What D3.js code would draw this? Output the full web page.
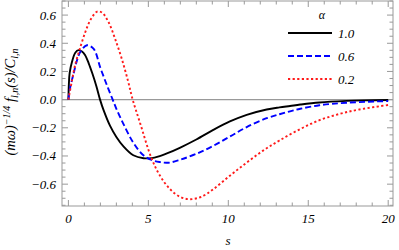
<!DOCTYPE html>
<html lang="en">
<head>
<meta charset="UTF-8">
<title>f_ln(s) for several alpha</title>
<script src="https://d3js.org/d3.v7.min.js"></script>
<style>
  body { margin: 0; background: #fff; }
  svg { display: block; }
  text { font-family: "Liberation Serif", "DejaVu Serif", serif; font-style: italic; fill: #000; }
  .frame { fill: none; stroke: #999; stroke-width: 1; }
  .tick { stroke: #999; stroke-width: 1; }
  .zero { stroke: #999; stroke-width: 1.3; }
  .curve { fill: none; stroke-width: 1.9; }
</style>
</head>
<body>
<svg width="399" height="250"></svg>
<script>
// values
const alphaLabels = ["1.0", "0.6", "0.2"];
const colors = ["#000000", "#0000ff", "#ff1a1a"];
const dashes = [null, "6,3", "2.2,2.4"];

const sA10 = [0, 0.03, 0.08, 0.23, 0.43, 0.64, 0.85, 1.04, 1.27, 1.5, 1.75, 1.98, 2.2, 2.6, 3.0, 3.43, 4.06, 4.7, 5.2, 5.6, 6.2, 7.0, 8.0, 9.06, 10.1, 11.15, 12.4, 13.2, 13.86, 14.5, 15.7, 17.4, 18.5, 20];
const fA10 = [0, 0.11, 0.19, 0.27, 0.333, 0.351, 0.341, 0.316, 0.258, 0.185, 0.095, 0, -0.075, -0.185, -0.265, -0.33, -0.395, -0.416, -0.415, -0.405, -0.38, -0.34, -0.283, -0.215, -0.155, -0.108, -0.07, -0.055, -0.045, -0.035, -0.02, -0.009, -0.005, -0.003];

const sA06 = [0, 0.1, 0.33, 0.54, 0.75, 1.16, 1.58, 2.0, 2.4, 2.77, 3.0, 3.43, 4.06, 4.69, 5.2, 5.7, 6.25, 7.0, 8.0, 9.06, 10.1, 11.15, 12.4, 13.2, 13.86, 14.5, 15.7, 17.4, 20];
const fA06 = [0, 0.08, 0.187, 0.28, 0.34, 0.386, 0.36, 0.225, 0.105, 0, -0.065, -0.17, -0.306, -0.395, -0.428, -0.443, -0.448, -0.426, -0.385, -0.328, -0.262, -0.195, -0.132, -0.104, -0.083, -0.065, -0.04, -0.022, -0.01];

const sA02 = [0, 0.23, 0.43, 0.7, 1.06, 1.4, 1.8, 2.1, 2.5, 2.91, 3.33, 3.74, 4.02, 4.48, 5.2, 5.73, 6.36, 6.98, 7.6, 8.3, 9.06, 10.1, 11.15, 12.2, 13.2, 14.48, 15.7, 17.0, 18.2, 20];
const fA02 = [0, 0.14, 0.25, 0.355, 0.48, 0.57, 0.625, 0.618, 0.553, 0.435, 0.293, 0.127, 0, -0.165, -0.417, -0.54, -0.636, -0.69, -0.707, -0.69, -0.636, -0.54, -0.447, -0.36, -0.29, -0.21, -0.146, -0.1, -0.07, -0.038];

const xMajor = [0, 5, 10, 15, 20];
const yMajor = [-0.6, -0.4, -0.2, 0.0, 0.2, 0.4, 0.6];

const series = [
  sA10.map((s, i) => [s, fA10[i]]),
  sA06.map((s, i) => [s, fA06[i]]),
  sA02.map((s, i) => [s, fA02[i]])
];

const svg = d3.select("svg");
const plotL = 62, plotR = 393, plotT = 1, plotB = 206;

const x = d3.scaleLinear().domain([-0.4, 20.3]).range([plotL, plotR]);
const y = d3.scaleLinear().domain([-0.755, 0.70]).range([plotB, plotT]);

// frame ticks, inward on all four sides
const tickG = svg.append("g");
const xMinor = d3.range(0, 21, 1);
const yMinor = d3.range(-0.75, 0.701, 0.05);
xMinor.forEach(v => {
  const len = xMajor.includes(v) ? 6 : 3.5;
  tickG.append("line").attr("class", "tick")
    .attr("x1", x(v)).attr("x2", x(v)).attr("y1", plotB).attr("y2", plotB - len);
  tickG.append("line").attr("class", "tick")
    .attr("x1", x(v)).attr("x2", x(v)).attr("y1", plotT).attr("y2", plotT + len);
});
yMinor.forEach(v => {
  const isMajor = yMajor.some(m => Math.abs(m - v) < 1e-6);
  const len = isMajor ? 6 : 3.5;
  tickG.append("line").attr("class", "tick")
    .attr("x1", plotL).attr("x2", plotL + len).attr("y1", y(v)).attr("y2", y(v));
  tickG.append("line").attr("class", "tick")
    .attr("x1", plotR).attr("x2", plotR - len).attr("y1", y(v)).attr("y2", y(v));
});

svg.append("rect").attr("class", "frame")
  .attr("x", plotL).attr("y", plotT)
  .attr("width", plotR - plotL).attr("height", plotB - plotT);

// tick labels
svg.append("g").selectAll("text").data(xMajor).enter().append("text")
  .attr("x", d => x(d)).attr("y", 223)
  .attr("text-anchor", "middle").attr("font-size", 13)
  .text(d => d);

svg.append("g").selectAll("text").data(yMajor).enter().append("text")
  .attr("x", 56).attr("y", d => y(d) + 4.5)
  .attr("text-anchor", "end").attr("font-size", 13)
  .text(d => d3.format(".1f")(d).replace("-", "\u2212"));

// zero line
svg.append("line").attr("class", "zero")
  .attr("x1", plotL).attr("x2", plotR).attr("y1", y(0)).attr("y2", y(0));

// curves
const line = d3.line().x(d => x(d[0])).y(d => y(d[1])).curve(d3.curveCatmullRom.alpha(0.5));
svg.append("g").selectAll("path").data(series).enter().append("path")
  .attr("class", "curve")
  .attr("d", line)
  .attr("stroke", (d, i) => colors[i])
  .attr("stroke-dasharray", (d, i) => dashes[i])
  .attr("stroke-width", (d, i) => i === 2 ? 2.2 : 1.9);

// axis labels
svg.append("text").attr("x", 228).attr("y", 245)
  .attr("text-anchor", "middle").attr("font-size", 13).text("s");

const yl = svg.append("text")
  .attr("transform", "translate(15,102) rotate(-90)")
  .attr("text-anchor", "middle").attr("font-size", 14.5);
yl.append("tspan").text("(mω)");
yl.append("tspan").attr("dy", -5.5).attr("font-size", 10).text("\u22121/4");
yl.append("tspan").attr("dy", 5.5).text(" f");
yl.append("tspan").attr("dy", 3).attr("font-size", 10).text("l,n");
yl.append("tspan").attr("dy", -3).text("(s)/C");
yl.append("tspan").attr("dy", 3).attr("font-size", 10).text("l,n");

// legend
const lg = svg.append("g");
lg.append("text").attr("x", 322).attr("y", 19)
  .attr("text-anchor", "middle").attr("font-size", 12).text("α");
alphaLabels.forEach((lab, i) => {
  const yy = 33 + i * 23;
  lg.append("line")
    .attr("x1", 288).attr("x2", 332).attr("y1", yy).attr("y2", yy)
    .attr("stroke", colors[i]).attr("stroke-width", i === 2 ? 2.2 : 1.9)
    .attr("stroke-dasharray", dashes[i]);
  lg.append("text").attr("x", 338).attr("y", yy + 4.5)
    .attr("font-size", 13).text(lab);
});
</script>
</body>
</html>
